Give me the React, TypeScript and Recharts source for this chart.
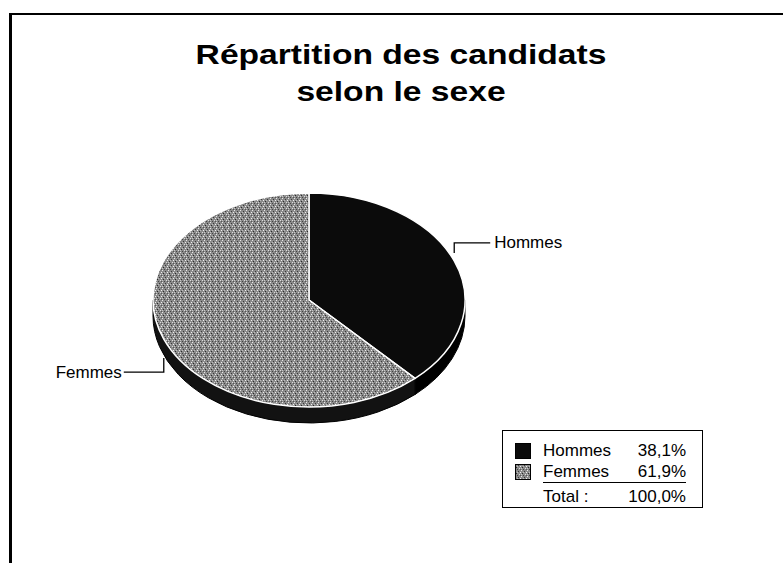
import React from "react";
import { PieChart, Pie, Cell, Legend } from "recharts";

const categories = ["Hommes", "Femmes"];
const values = [38.1, 61.9];
const titleLines = ["Répartition des candidats", "selon le sexe"];
const totalLabel = "Total :";

const data = categories.map((name, i) => ({ name, value: values[i] }));

const CX = 309;
const CY = 300;
const RX = 156;
const RATIO = 107 / 156;
const DEPTH = 16;
const RAD = Math.PI / 180;

const topFill = ["#0b0b0b", "url(#femTex)"];
const sideFill = ["#000000", "#121212"];

const pt = (cx: number, cy: number, r: number, a: number, dy = 0) => ({
  x: cx + r * Math.cos(a * RAD),
  y: cy - r * RATIO * Math.sin(a * RAD) + dy,
});

const fmt = (v: number) => v.toFixed(1).replace(".", ",") + "%";

const Texture = ({ id }: { id: string }) => (
  <pattern id={id} width="6" height="6" patternUnits="userSpaceOnUse">
    <rect width="6" height="6" fill="#8a8a8a" />
    <rect x="0" y="0" width="1" height="1" fill="#e8e8e8" />
    <rect x="3" y="1" width="1" height="1" fill="#3a3a3a" />
    <rect x="5" y="2" width="1" height="1" fill="#f0f0f0" />
    <rect x="1" y="3" width="1" height="1" fill="#2a2a2a" />
    <rect x="4" y="4" width="1" height="1" fill="#dcdcdc" />
    <rect x="2" y="5" width="1" height="1" fill="#444444" />
    <rect x="2" y="2" width="1" height="1" fill="#bdbdbd" />
    <rect x="5" y="5" width="1" height="1" fill="#555555" />
    <rect x="0" y="4" width="1" height="1" fill="#c8c8c8" />
  </pattern>
);

const renderSide = (p: any) => {
  const { cx, cy, outerRadius, startAngle, endAngle, index } = p;
  const hi = Math.min(startAngle, 0);
  const lo = Math.max(endAngle, -180);
  if (hi <= lo) return <g />;
  const a = pt(cx, cy, outerRadius, hi);
  const b = pt(cx, cy, outerRadius, lo);
  const ry = outerRadius * RATIO;
  const d = `M${a.x},${a.y} A${outerRadius},${ry} 0 0 1 ${b.x},${b.y} L${b.x},${b.y + DEPTH} A${outerRadius},${ry} 0 0 0 ${a.x},${a.y + DEPTH} Z`;
  return <path d={d} fill={sideFill[index]} stroke="#000" strokeWidth={1} />;
};

const renderTop = (p: any) => {
  const { cx, cy, outerRadius, startAngle, endAngle, midAngle, index, name } = p;
  const a = pt(cx, cy, outerRadius, startAngle);
  const b = pt(cx, cy, outerRadius, endAngle);
  const ry = outerRadius * RATIO;
  const large = startAngle - endAngle > 180 ? 1 : 0;
  const d = `M${cx},${cy} L${a.x},${a.y} A${outerRadius},${ry} 0 ${large} 1 ${b.x},${b.y} Z`;
  const m = pt(cx, cy, outerRadius, midAngle);
  const right = Math.cos(midAngle * RAD) >= 0;
  let leader: string;
  let tx: number;
  let ty: number;
  if (right) {
    const y1 = m.y - 18;
    leader = `M${m.x},${m.y - 8} L${m.x},${y1} L${m.x + 36},${y1}`;
    tx = m.x + 40;
    ty = y1;
  } else {
    const y0 = m.y + DEPTH + 3;
    const y1 = y0 + 14;
    leader = `M${m.x},${y0} L${m.x},${y1} L${m.x - 40},${y1}`;
    tx = m.x - 42;
    ty = y1;
  }
  return (
    <g>
      {index === 0 && (
        <defs>
          <Texture id="femTex" />
        </defs>
      )}
      <path d={d} fill={topFill[index]} stroke="#ffffff" strokeWidth={1.5} strokeLinejoin="round" />
      <path d={leader} fill="none" stroke="#000" strokeWidth={1.3} />
      <text
        x={tx}
        y={ty}
        textAnchor={right ? "start" : "end"}
        dominantBaseline="central"
        fontFamily="'Liberation Sans', Arial, sans-serif"
        fontSize={17}
        fill="#000"
      >
        {name}
      </text>
    </g>
  );
};

const LegendBox = () => {
  const total = values.reduce((s, v) => s + v, 0);
  const rowStyle = (top: number): React.CSSProperties => ({
    position: "absolute",
    left: 0,
    top,
    width: 201,
    height: 20,
    lineHeight: "20px",
  });
  return (
    <div
      style={{
        position: "relative",
        width: 201,
        height: 78,
        border: "1.5px solid #000",
        boxSizing: "border-box",
        background: "#fff",
        fontFamily: "'Liberation Sans', Arial, sans-serif",
        fontSize: 17,
        color: "#000",
      }}
    >
      {categories.map((c, i) => (
        <div key={c} style={rowStyle(10 + i * 21)}>
          <svg width={16} height={16} style={{ position: "absolute", left: 12, top: 2 }}>
            <defs>
              <Texture id={`legTex${i}`} />
            </defs>
            <rect
              x={0.5}
              y={0.5}
              width={15}
              height={15}
              fill={i === 0 ? topFill[0] : `url(#legTex${i})`}
              stroke="#000"
            />
          </svg>
          <span style={{ position: "absolute", left: 40 }}>{c}</span>
          <span style={{ position: "absolute", right: 18 }}>{fmt(values[i])}</span>
        </div>
      ))}
      <div
        style={{
          position: "absolute",
          left: 40,
          top: 51,
          width: 143,
          height: 0,
          borderTop: "1.5px solid #000",
        }}
      />
      <div style={rowStyle(56)}>
        <span style={{ position: "absolute", left: 40 }}>{totalLabel}</span>
        <span style={{ position: "absolute", right: 18 }}>{fmt(total)}</span>
      </div>
    </div>
  );
};

export default function App() {
  return (
    <div
      style={{
        position: "absolute",
        left: 0,
        top: 0,
        width: 783,
        height: 563,
        overflow: "hidden",
        background: "#fff",
      }}
    >
      <div
        style={{
          position: "absolute",
          left: 9,
          top: 13,
          width: 900,
          height: 700,
          borderLeft: "3px solid #000",
          borderTop: "2.5px solid #000",
        }}
      />
      <div
        style={{
          position: "absolute",
          left: 0,
          top: 36,
          width: 802,
          textAlign: "center",
          fontFamily: "'Liberation Sans', Arial, sans-serif",
          fontWeight: "bold",
          fontSize: 28,
          lineHeight: "37px",
          color: "#000",
        }}
      >
        {titleLines.map((t) => (
          <div key={t} style={{ transform: "scaleX(1.2)" }}>
            {t}
          </div>
        ))}
      </div>
      <div style={{ position: "absolute", left: 0, top: 0 }}>
        <PieChart width={783} height={563} margin={{ top: 0, right: 0, bottom: 0, left: 0 }}>
          <Pie
            data={data}
            dataKey="value"
            nameKey="name"
            cx={CX}
            cy={CY}
            outerRadius={RX}
            startAngle={90}
            endAngle={-270}
            isAnimationActive={false}
            stroke="none"
            fill="none"
            labelLine={false}
            label={renderSide}
          >
            {data.map((d) => (
              <Cell key={d.name} fill="none" stroke="none" />
            ))}
          </Pie>
          <Pie
            data={data}
            dataKey="value"
            nameKey="name"
            cx={CX}
            cy={CY}
            outerRadius={RX}
            startAngle={90}
            endAngle={-270}
            isAnimationActive={false}
            stroke="none"
            fill="none"
            labelLine={false}
            label={renderTop}
          >
            {data.map((d) => (
              <Cell key={d.name} fill="none" stroke="none" />
            ))}
          </Pie>
          <Legend
            content={() => <LegendBox />}
            wrapperStyle={{ position: "absolute", left: 502, top: 430, width: 201, height: 78 }}
          />
        </PieChart>
      </div>
    </div>
  );
}
